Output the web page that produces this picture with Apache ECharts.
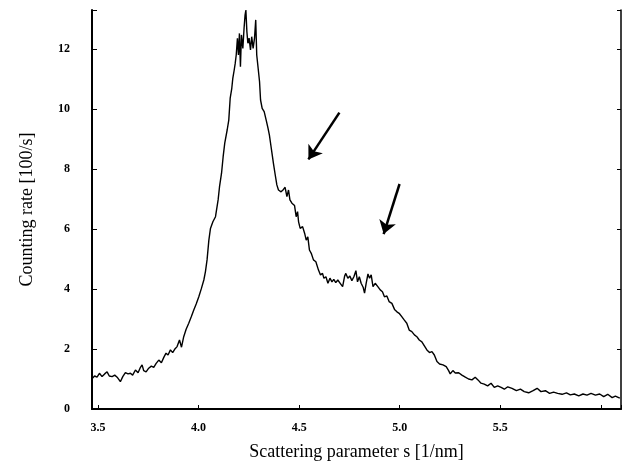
<!DOCTYPE html>
<html>
<head>
<meta charset="utf-8">
<script src="https://cdn.jsdelivr.net/npm/echarts@6/dist/echarts.min.js"></script>
<style>
html,body{margin:0;padding:0;background:#fff;}
#chart{width:624px;height:467px;}
</style>
</head>
<body>
<div id="chart"></div>
<script>
// Scattering parameter s [1/nm]
var S = [3.470,3.472,3.483,3.495,3.507,3.520,3.533,3.545,3.556,3.570,3.583,3.595,3.611,3.623,3.636,3.649,3.661,3.672,3.686,3.699,3.711,3.719,3.727,3.739,3.752,3.765,3.777,3.789,3.802,3.815,3.827,3.838,3.848,3.860,3.871,3.881,3.893,3.905,3.915,3.926,3.938,3.951,3.964,3.976,3.988,4.001,4.014,4.026,4.034,4.042,4.051,4.059,4.071,4.084,4.097,4.104,4.114,4.122,4.130,4.142,4.150,
4.157,4.165,4.170,4.177,4.182,4.187,4.193,4.198,4.203,4.208,4.213,4.220,4.226,4.231,4.235,4.240,4.245,4.251,4.258,4.264,4.271,4.278,4.284,4.289,4.296,4.303,4.308,4.316,4.326,4.336,4.345,4.352,4.359,4.366,
4.372,4.381,4.389,4.397,4.410,4.422,4.430,4.439,4.447,4.454,4.464,4.477,4.485,4.492,4.497,4.505,4.517,4.527,4.535,4.543,4.551,4.560,4.571,4.583,4.596,4.606,4.616,4.623,4.633,4.643,4.653,4.663,4.672,4.682,4.692,4.704,4.716,4.726,4.732,4.742,4.752,4.762,4.772,4.782,4.790,4.799,4.808,4.818,4.825,4.833,4.842,4.850,4.858,4.867,4.878,4.891,4.903,4.914,4.924,4.936,4.947,4.961,4.974,4.986,4.997,5.010,5.022,5.035,5.047,5.060,5.073,5.085,5.097,5.110,
5.119,5.135,5.148,5.160,5.172,5.185,5.198,5.215,5.231,5.243,5.251,5.264,5.276,5.293,5.309,5.326,5.342,5.359,5.375,5.389,5.404,5.420,5.437,5.454,5.470,5.487,5.504,5.520,5.537,5.558,5.580,5.600,5.619,5.641,5.663,5.683,5.702,5.724,5.745,5.765,5.785,5.807,5.829,5.848,5.868,5.890,5.911,5.931,5.951,5.973,5.994,6.014,6.034,6.056,6.072,6.094];
// Counting rate [100/s]
var V = [2.20,1.02,1.10,1.06,1.19,1.08,1.17,1.24,1.10,1.08,1.13,1.06,0.91,1.08,1.21,1.17,1.19,1.13,1.30,1.21,1.39,1.47,1.28,1.24,1.36,1.43,1.39,1.52,1.63,1.54,1.72,1.86,1.80,1.97,1.88,1.99,2.08,2.30,2.06,2.41,2.66,2.86,3.08,3.30,3.50,3.74,4.02,4.30,4.58,4.97,5.63,6.02,6.24,6.41,6.97,7.41,7.86,8.41,8.86,9.30,9.63,
10.36,10.69,11.02,11.30,11.52,11.80,12.36,11.80,12.52,11.41,12.47,12.02,12.69,13.13,13.30,12.58,12.19,12.36,11.97,12.41,12.02,12.36,12.97,11.80,11.36,10.91,10.30,10.02,9.91,9.63,9.36,9.13,8.80,8.47,
8.19,7.80,7.47,7.30,7.24,7.32,7.39,7.08,7.30,6.97,6.86,6.78,6.41,6.58,6.24,6.02,6.08,5.86,5.63,5.74,5.30,5.19,4.97,4.91,4.63,4.47,4.52,4.36,4.41,4.19,4.36,4.24,4.32,4.21,4.30,4.19,4.08,4.43,4.52,4.36,4.43,4.28,4.41,4.61,4.24,4.41,4.19,4.06,3.86,4.19,4.50,4.36,4.47,4.08,4.19,4.08,3.97,3.91,3.74,3.77,3.58,3.52,3.32,3.24,3.19,3.08,2.97,2.86,2.63,2.58,2.47,2.41,2.30,2.24,
2.24,1.97,1.88,1.91,1.80,1.58,1.50,1.47,1.41,1.28,1.17,1.28,1.20,1.21,1.13,1.06,1.00,0.97,1.06,0.97,0.86,0.83,0.77,0.86,0.72,0.77,0.72,0.66,0.74,0.69,0.61,0.66,0.58,0.54,0.61,0.69,0.58,0.61,0.52,0.56,0.52,0.49,0.54,0.47,0.50,0.44,0.50,0.46,0.52,0.46,0.50,0.41,0.49,0.38,0.43,0.36];
// Arrow annotations [s, rate] tail -> head
var ARROW1 = [[4.700, 9.88], [4.546, 8.32]];
var ARROW2 = [[4.999, 7.50], [4.920, 5.83]];

var XMIN = 3.47, XMAX = 6.10, YMIN = 0, YMAX = 13.3;

var pts = S.map(function (s, i) { return [s, V[i]]; });
var serif = '"Liberation Serif", "DejaVu Serif", serif';

var chart = echarts.init(document.getElementById('chart'), null, {renderer: 'canvas'});
chart.setOption({
  animation: false,
  backgroundColor: '#fff',
  grid: {left: 92, right: 3, top: 10, bottom: 58, containLabel: false},
  xAxis: [{
    type: 'value', min: XMIN, max: XMAX, splitNumber: 5,
    name: 'Scattering parameter s [1/nm]', nameLocation: 'middle', nameGap: 34,
    nameTextStyle: {fontFamily: serif, fontSize: 18, color: '#000'},
    axisLine: {show: true, lineStyle: {color: '#000', width: 2}},
    axisTick: {show: true, inside: true, length: 4, lineStyle: {color: '#000'}},
    axisLabel: {fontFamily: serif, fontSize: 12, fontWeight: 'bold', color: '#000', margin: 13,
      showMinLabel: true, showMaxLabel: true,
      formatter: function (v) {
        var r = Math.round(v * 2) / 2;
        if (Math.abs(v - r) < 1e-6 && v < 5.9 && v > 3.48) return r.toFixed(1);
        return '';
      }},
    splitLine: {show: false}
  }, {
    type: 'value', position: 'top', min: XMIN, max: XMAX, splitNumber: 5,
    axisLine: {show: true, lineStyle: {color: '#000', width: 1.5}},
    axisTick: {show: false}, axisLabel: {show: false}, splitLine: {show: false}
  }],
  yAxis: [{
    type: 'value', min: YMIN, max: YMAX, interval: 2,
    name: 'Counting rate [100/s]', nameLocation: 'middle', nameGap: 56,
    nameTextStyle: {fontFamily: serif, fontSize: 18, color: '#000'},
    axisLine: {show: true, lineStyle: {color: '#000', width: 2}},
    axisTick: {show: true, inside: true, length: 5, lineStyle: {color: '#000'}},
    axisLabel: {fontFamily: serif, fontSize: 12, fontWeight: 'bold', color: '#000', margin: 22,
      formatter: function (v) {
        if (Math.abs(v % 2) < 1e-6 && v <= 12) return String(Math.round(v));
        return '';
      }},
    splitLine: {show: false}
  }, {
    type: 'value', position: 'right', min: YMIN, max: YMAX, interval: 2,
    axisLine: {show: true, lineStyle: {color: '#000', width: 1.5}},
    axisTick: {show: true, inside: true, length: 4, lineStyle: {color: '#000'}},
    axisLabel: {show: false}, splitLine: {show: false}
  }],
  series: [{
    type: 'line', data: pts, xAxisIndex: 0, yAxisIndex: 0,
    showSymbol: false, symbol: 'none', smooth: false,
    lineStyle: {color: '#000', width: 1.4},
    markLine: {
      silent: true, symbol: ['none', 'arrow'], symbolSize: 13,
      label: {show: false},
      lineStyle: {color: '#000', width: 2.5, type: 'solid'},
      data: [
        [{coord: ARROW1[0]}, {coord: ARROW1[1]}],
        [{coord: ARROW2[0]}, {coord: ARROW2[1]}]
      ]
    }
  }]
});
</script>
</body>
</html>
